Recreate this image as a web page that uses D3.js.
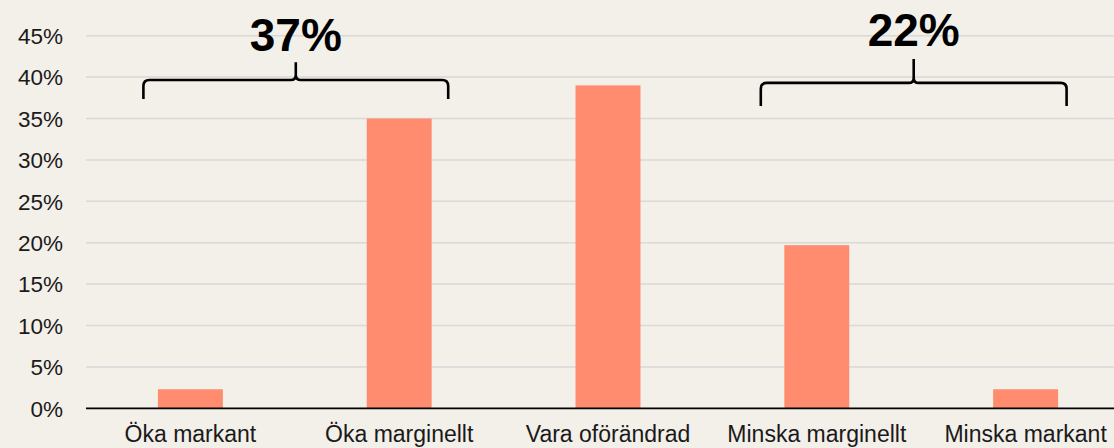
<!DOCTYPE html>
<html><head><meta charset="utf-8">
<script src="https://cdn.jsdelivr.net/npm/d3@7"></script>
<style>
html,body{margin:0;padding:0;background:#F3EFE9;}
svg{display:block;}
text{font-family:"Liberation Sans",Arial,sans-serif;}
</style></head>
<body>
<svg id="chart" width="1114" height="448"></svg>
<script>
const categories = ["Öka markant","Öka marginellt","Vara oförändrad","Minska marginellt","Minska markant"];
const values = [2.3, 35, 39, 19.7, 2.3];
const yTicks = [0,5,10,15,20,25,30,35,40,45];
const groupLabels = ["37%","22%"];
const groupFrom = [0,3];
const groupTo = [1,4];

const W = 1114, H = 448;
const svg = d3.select("#chart");
svg.append("rect").attr("width",W).attr("height",H).attr("fill","#F3EFE9");

const x = d3.scaleBand().domain(categories).range([86,1130]).paddingInner(0.689).paddingOuter(0.3445);
const y = d3.scaleLinear().domain([0,45]).range([408.3,35.7]);

// gridlines
svg.append("g").selectAll("line").data(yTicks.filter(d=>d>0)).join("line")
  .attr("x1",86).attr("x2",W).attr("y1",d=>y(d)).attr("y2",d=>y(d))
  .attr("stroke","#D9D9D9").attr("stroke-width",1.5);

// y labels
const yAxis = d3.axisLeft(y).tickValues(yTicks).tickFormat(d=>d+"%").tickSize(0).tickPadding(0);
const ya = svg.append("g").attr("transform","translate(63,0)").call(yAxis);
ya.select(".domain").remove();
ya.selectAll("text").attr("font-size",22.5).attr("fill","#1a1a1a")
  .attr("font-family","'Liberation Sans',Arial,sans-serif")
  .attr("dy","0.35em").attr("x",0);

// bars
svg.append("g").selectAll("rect").data(values).join("rect")
  .attr("x",(d,i)=>x(categories[i]))
  .attr("width",x.bandwidth())
  .attr("y",d=>y(d))
  .attr("height",d=>y(0)-y(d))
  .attr("fill","#FF8C6E");

// x axis
const xAxis = d3.axisBottom(x).tickSize(0).tickPadding(0);
const xa = svg.append("g").attr("transform","translate(0,"+y(0)+")").call(xAxis);
xa.select(".domain").attr("stroke","#000").attr("stroke-width",1.8).attr("d","M86,0H"+W);
xa.selectAll("text").attr("font-size",23).attr("fill","#1a1a1a")
  .attr("font-family","'Liberation Sans',Arial,sans-serif")
  .attr("y",33.5).attr("dy",0);

// braces (annotation), positions expressed in data units
const braceOffL = [-47,-56];   // px offset from first bar centre
const braceOffR = [49,41];     // px offset from last bar centre
const braceH = [39.65,39.3];
const braceEnd = [37.35,36.5];
const braceTip = [41.8,42.2];
const labelY = [43.2,43.7];

const cx = c => x(c)+x.bandwidth()/2;
groupLabels.forEach((lab,i)=>{
  const x1 = cx(categories[groupFrom[i]])+braceOffL[i];
  const x2 = cx(categories[groupTo[i]])+braceOffR[i];
  const xm = (x1+x2)/2;
  const yh = y(braceH[i]), ye = y(braceEnd[i]), yt = y(braceTip[i]);
  const r = 6, rc = 5;
  const p = d3.path();
  p.moveTo(x1,ye);
  p.lineTo(x1,yh+r);
  p.quadraticCurveTo(x1,yh,x1+r,yh);
  p.lineTo(xm-rc,yh);
  p.quadraticCurveTo(xm,yh,xm,yh-rc);
  p.lineTo(xm,yt);
  p.moveTo(xm,yh-rc);
  p.quadraticCurveTo(xm,yh,xm+rc,yh);
  p.lineTo(x2-r,yh);
  p.quadraticCurveTo(x2,yh,x2,yh+r);
  p.lineTo(x2,ye);
  svg.append("path").attr("d",p.toString()).attr("fill","none")
    .attr("stroke","#000").attr("stroke-width",2.6).attr("stroke-linejoin","round");
  svg.append("text").attr("x",xm).attr("y",y(labelY[i]))
    .attr("text-anchor","middle").attr("font-size",46).attr("font-weight","bold")
    .attr("fill","#000").text(lab);
});
</script>
</body></html>
